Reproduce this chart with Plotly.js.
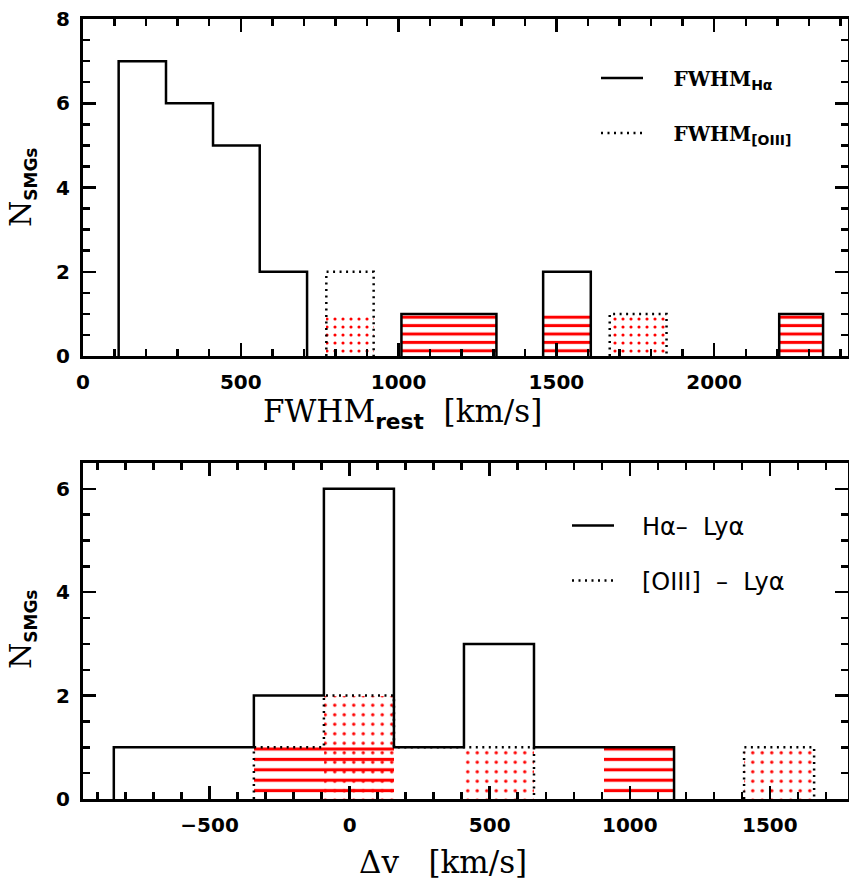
<!DOCTYPE html>
<html><head><meta charset="utf-8">
<script src="https://cdn.plot.ly/plotly-3.0.1.min.js"></script>
<style>html,body{margin:0;padding:0;background:#fff}</style>
</head><body><div id="chart" style="width:849px;height:879px"></div>
<script>
// ---- Top panel: FWHM_rest [km/s] (bin low edge, bin high edge, count) ----
const haLo = [113, 263, 412, 560, 1009, 1458, 2206];
const haHi = [263, 412, 560, 710, 1310, 1609, 2345];
const haN  = [7, 6, 5, 2, 1, 2, 1];
const oiiiLo = [771, 1669];
const oiiiHi = [921, 1849];
const oiiiN  = [2, 1];
const haRedLo = [1009, 1458, 2206];
const haRedHi = [1310, 1609, 2345];
const haRedN  = [1, 1, 1];
const oiiiRedLo = [771, 1669];
const oiiiRedHi = [921, 1849];
const oiiiRedN  = [1, 1];
// ---- Bottom panel: Δv [km/s] ----
const dvHaLo = [-842, -592, -342, -92, 158, 408, 658, 908];
const dvHaHi = [-592, -342, -92, 158, 408, 658, 908, 1158];
const dvHaN  = [1, 1, 2, 6, 1, 3, 1, 1];
const dvOLo = [-342, -92, 158, 408, 1408];
const dvOHi = [-92, 158, 408, 658, 1658];
const dvON  = [1, 2, 1, 1, 1];
const dvHaRedLo = [-342, -92, 908];
const dvHaRedHi = [-92, 158, 1158];
const dvHaRedN  = [1, 1, 1];
const dvORedLo = [-92, 408, 1408];
const dvORedHi = [158, 658, 1658];
const dvORedN  = [2, 1, 1];

const topXTicks = [0, 500, 1000, 1500, 2000];
const topYTicks = [0, 2, 4, 6, 8];
const botXTicks = [-500, 0, 500, 1000, 1500];
const botYTicks = [0, 2, 4, 6];

const GAP4 = '\u00A0\u00A0\u00A0\u00A0';
const GAP3 = '\u00A0\u00A0\u00A0';
const legTop1 = GAP4 + '<b>FWHM</b><sub><span style="font-family:DejaVu Sans"><b>Hα</b></span></sub>';
const legTop2 = GAP4 + '<b>FWHM</b><sub><span style="font-family:DejaVu Sans"><b>[OIII]</b></span></sub>';
const legBot1 = GAP3 + 'Hα–\u00A0 Lyα';
const legBot2 = GAP3 + '[OIII] \u00A0–\u00A0 Lyα';

function step(lo, hi, n) {
  const x = [], y = [];
  for (let i = 0; i < lo.length; i++) {
    if (i === 0 || lo[i] !== hi[i - 1]) {
      if (i > 0) { x.push(hi[i - 1]); y.push(0); x.push(null); y.push(null); }
      x.push(lo[i]); y.push(0);
    }
    x.push(lo[i]); y.push(n[i]);
  }
  x.push(hi[hi.length - 1]); y.push(0);
  return {x, y};
}
function bars(lo, hi, n, xa, ya, shape, size, sol) {
  return {
    type: 'bar', xaxis: xa, yaxis: ya, showlegend: false, hoverinfo: 'skip',
    x: lo.map((v, i) => (v + hi[i]) / 2),
    width: lo.map((v, i) => hi[i] - v),
    y: n, base: 0,
    marker: {color: 'rgba(0,0,0,0)', line: {width: 0},
      pattern: {shape: shape, fgcolor: '#ff0000', fgopacity: 1, bgcolor: 'rgba(0,0,0,0)', size: size, solidity: sol, fillmode: 'overlay'}}
  };
}
function line(s, xa, ya, dash, name, leg) {
  return {type: 'scatter', mode: 'lines', xaxis: xa, yaxis: ya, x: s.x, y: s.y,
    line: {shape: 'hv', color: '#000', width: 2.5, dash: dash}, connectgaps: false,
    name: name, legend: leg, showlegend: true, hoverinfo: 'skip'};
}
const DOT = '2px,4.5px';
const traces = [
  bars(haRedLo, haRedHi, haRedN, 'x', 'y', '-', 8.4, 0.36),
  bars(oiiiRedLo, oiiiRedHi, oiiiRedN, 'x', 'y', '.', 8, 0.12),
  bars(dvHaRedLo, dvHaRedHi, dvHaRedN, 'x2', 'y2', '-', 10.4, 0.3),
  bars(dvORedLo, dvORedHi, dvORedN, 'x2', 'y2', '.', 9.5, 0.1),
  line(step(haLo, haHi, haN), 'x', 'y', 'solid', legTop1, 'legend'),
  line(step(oiiiLo, oiiiHi, oiiiN), 'x', 'y', DOT, legTop2, 'legend2'),
  line(step(dvHaLo, dvHaHi, dvHaN), 'x2', 'y2', 'solid', legBot1, 'legend3'),
  line(step(dvOLo, dvOHi, dvON), 'x2', 'y2', DOT, legBot2, 'legend4')
];
const tickFont = {family: 'DejaVu Sans', size: 20, weight: 'bold', color: '#000'};
function ax(extra) {
  return Object.assign({
    showline: true, linewidth: 3, linecolor: '#000', mirror: 'ticks',
    ticks: 'inside', ticklen: 13, tickwidth: 2.5, tickcolor: '#000',
    showgrid: false, zeroline: false, tickfont: tickFont, tickmode: 'array',
    ticklabelstandoff: 6, fixedrange: true
  }, extra);
}
const Y1 = [(799 - 356) / 780, 1];
const Y2 = [0, (799 - 463) / 780];
function px(v) { return (v - 83) / 765; }
function py(v) { return (799 - v) / 780; }
const legBase = {bgcolor: 'rgba(0,0,0,0)', borderwidth: 0, xanchor: 'left', yanchor: 'middle', itemwidth: 42};
const serifLeg = {family: 'DejaVu Serif', size: 20, color: '#000'};
const sansLeg = {family: 'DejaVu Sans', size: 24, color: '#000'};
const titleFont = {family: 'DejaVu Serif', size: 31, color: '#000'};
const layout = {
  width: 849, height: 879,
  margin: {l: 83, r: 1, t: 19, b: 80},
  paper_bgcolor: '#fff', plot_bgcolor: '#fff',
  barmode: 'overlay', bargap: 0,
  showlegend: true,
  xaxis: ax({anchor: 'y', domain: [0, 1], range: [0, 2424], tickvals: topXTicks,
    minor: {ticks: 'inside', ticklen: 7, tickwidth: 2.5, tickcolor: '#000', dtick: 100, tick0: 0}}),
  yaxis: ax({anchor: 'x', domain: Y1, range: [0, 8], tickvals: topYTicks,
    minor: {ticks: 'inside', ticklen: 7, tickwidth: 2.5, tickcolor: '#000', dtick: 0.5, tick0: 0}}),
  xaxis2: ax({anchor: 'y2', domain: [0, 1], range: [-952, 1779], tickvals: botXTicks,
    minor: {ticks: 'inside', ticklen: 7, tickwidth: 2.5, tickcolor: '#000', dtick: 100, tick0: 0}}),
  yaxis2: ax({anchor: 'x2', domain: Y2, range: [0, 6.5], tickvals: botYTicks,
    minor: {ticks: 'inside', ticklen: 7, tickwidth: 2.5, tickcolor: '#000', dtick: 0.5, tick0: 0}}),
  legend: Object.assign({}, legBase, {x: px(596), y: py(78), font: serifLeg}),
  legend2: Object.assign({}, legBase, {x: px(596), y: py(133), font: serifLeg}),
  legend3: Object.assign({}, legBase, {x: px(567), y: py(526), font: sansLeg}),
  legend4: Object.assign({}, legBase, {x: px(567), y: py(581), font: sansLeg}),
  annotations: [
    {xref: 'paper', yref: 'paper', x: px(402), y: py(413), xanchor: 'center', yanchor: 'middle', showarrow: false,
      text: 'FWHM<sub><span style="font-family:DejaVu Sans"><b>rest</b></span></sub>\u00A0 [km/s]', font: titleFont},
    {xref: 'paper', yref: 'paper', x: px(443), y: py(862), xanchor: 'center', yanchor: 'middle', showarrow: false,
      text: 'Δv\u00A0\u00A0 [km/s]', font: titleFont},
    {xref: 'paper', yref: 'paper', x: px(22), y: py(188), xanchor: 'center', yanchor: 'middle', showarrow: false, textangle: -90,
      text: 'N<sub><span style="font-family:DejaVu Sans;font-size:17px"><b>SMGs</b></span></sub>',
      font: {family: 'DejaVu Serif', size: 30, color: '#000'}},
    {xref: 'paper', yref: 'paper', x: px(22), y: py(630), xanchor: 'center', yanchor: 'middle', showarrow: false, textangle: -90,
      text: 'N<sub><span style="font-family:DejaVu Sans;font-size:17px"><b>SMGs</b></span></sub>',
      font: {family: 'DejaVu Serif', size: 30, color: '#000'}}
  ]
};
Plotly.newPlot('chart', traces, layout, {displayModeBar: false, staticPlot: true});
</script></body></html>
